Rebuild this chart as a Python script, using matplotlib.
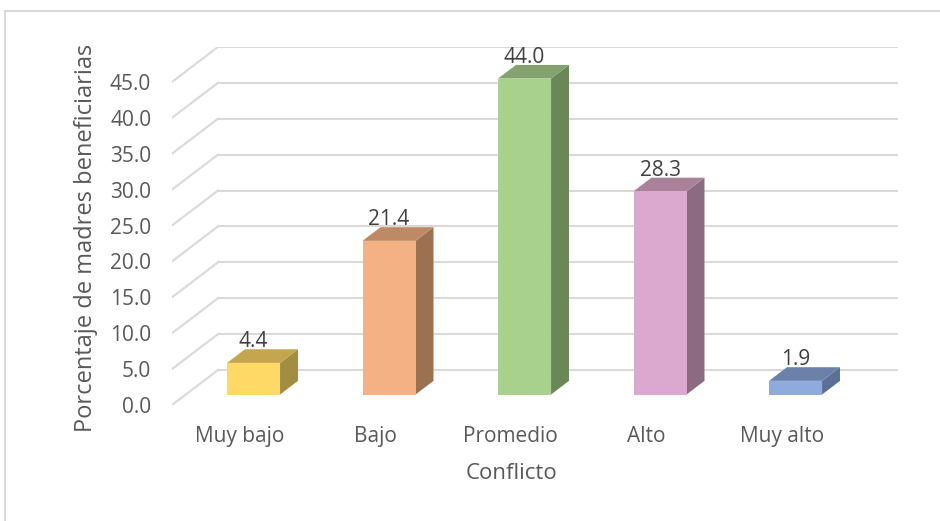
import matplotlib.pyplot as plt
from matplotlib.patches import Polygon, Rectangle

categories = ["Muy bajo", "Bajo", "Promedio", "Alto", "Muy alto"]
values = [4.4, 21.4, 44.0, 28.3, 1.9]
yticks = [0, 5, 10, 15, 20, 25, 30, 35, 40, 45]

front_colors = ["#FFD966", "#F4B183", "#A9D18E", "#DBA9D0", "#8FAADC"]
top_colors = ["#C3A64E", "#BE8A66", "#83A26E", "#A98299", "#6C81AA"]
side_colors = ["#A38D40", "#9C7152", "#6B8657", "#8C6A81", "#5B6F97"]

plt.rcParams['font.family'] = ['Open Sans', 'DejaVu Sans']

W, H = 940, 521
fig = plt.figure(figsize=(W / 100, H / 100), dpi=100)

# outer chart border
fig.patches.append(Rectangle((5 / W, -0.05), 1.1, (H - 11) / H + 0.05,
                             transform=fig.transFigure, fill=False,
                             edgecolor="#D9D9D9", lw=1.5))

px_x = 135.5   # pixels per category
px_y = 7.18    # pixels per unit
ax = fig.add_axes([172 / W, (H - 405) / H, (898 - 172) / W, (405 - 47) / H])
xmax = -0.5 + (898 - 172) / px_x
ax.set_xlim(-0.5, xmax)
ax.set_ylim(0, (405 - 47) / px_y)

# oblique depth of the 3D box
dx = 46 / px_x
dy = 35 / px_y
grid = "#D9D9D9"

for v in yticks:
    ax.plot([-0.5 + dx, xmax], [v + dy, v + dy], color=grid, lw=1.5, zorder=1)
    ax.plot([-0.5, -0.5 + dx], [v, v + dy], color=grid, lw=1.5, zorder=1)

# bars
f0, f1 = 0.30, 0.69
bw = 53 / px_x
for i, v in enumerate(values):
    x0 = i - bw / 2 + f0 * dx
    y0 = f0 * dy
    sx = (f1 - f0) * dx
    sy = (f1 - f0) * dy
    front = [(x0, y0), (x0 + bw, y0), (x0 + bw, y0 + v), (x0, y0 + v)]
    top = [(x0, y0 + v), (x0 + bw, y0 + v), (x0 + bw + sx, y0 + v + sy), (x0 + sx, y0 + v + sy)]
    side = [(x0 + bw, y0), (x0 + bw + sx, y0 + sy), (x0 + bw + sx, y0 + v + sy), (x0 + bw, y0 + v)]
    ax.add_patch(Polygon(side, closed=True, facecolor=side_colors[i], edgecolor="none", zorder=3))
    ax.add_patch(Polygon(top, closed=True, facecolor=top_colors[i], edgecolor="none", zorder=3))
    ax.add_patch(Polygon(front, closed=True, facecolor=front_colors[i], edgecolor="none", zorder=4))
    ax.text(x0 + bw / 2, y0 + v + 21 / px_y, "%.1f" % v, ha="center", va="center",
            fontsize=15, color="#404040", zorder=5)

ax.set_yticks(yticks)
ax.set_yticklabels(["%.1f" % t for t in yticks])
ax.set_xticks(range(len(categories)))
ax.set_xticklabels(categories)
ax.tick_params(axis="y", length=0, pad=15, labelsize=15, labelcolor="#595959")
ax.tick_params(axis="x", length=0, pad=15, labelsize=15, labelcolor="#595959")
for s in ax.spines.values():
    s.set_visible(False)

ax.set_xlabel("Conflicto", fontsize=16, color="#595959")
ax.xaxis.set_label_coords((512 - 172) / (898 - 172), (405 - 463) / (405 - 47))
ax.set_ylabel("Porcentaje de madres beneficiarias", fontsize=17, color="#595959")
ax.yaxis.set_label_coords(-74 / (898 - 172), (405 - 238) / (405 - 47))

fig.savefig("out.png", dpi=100)
